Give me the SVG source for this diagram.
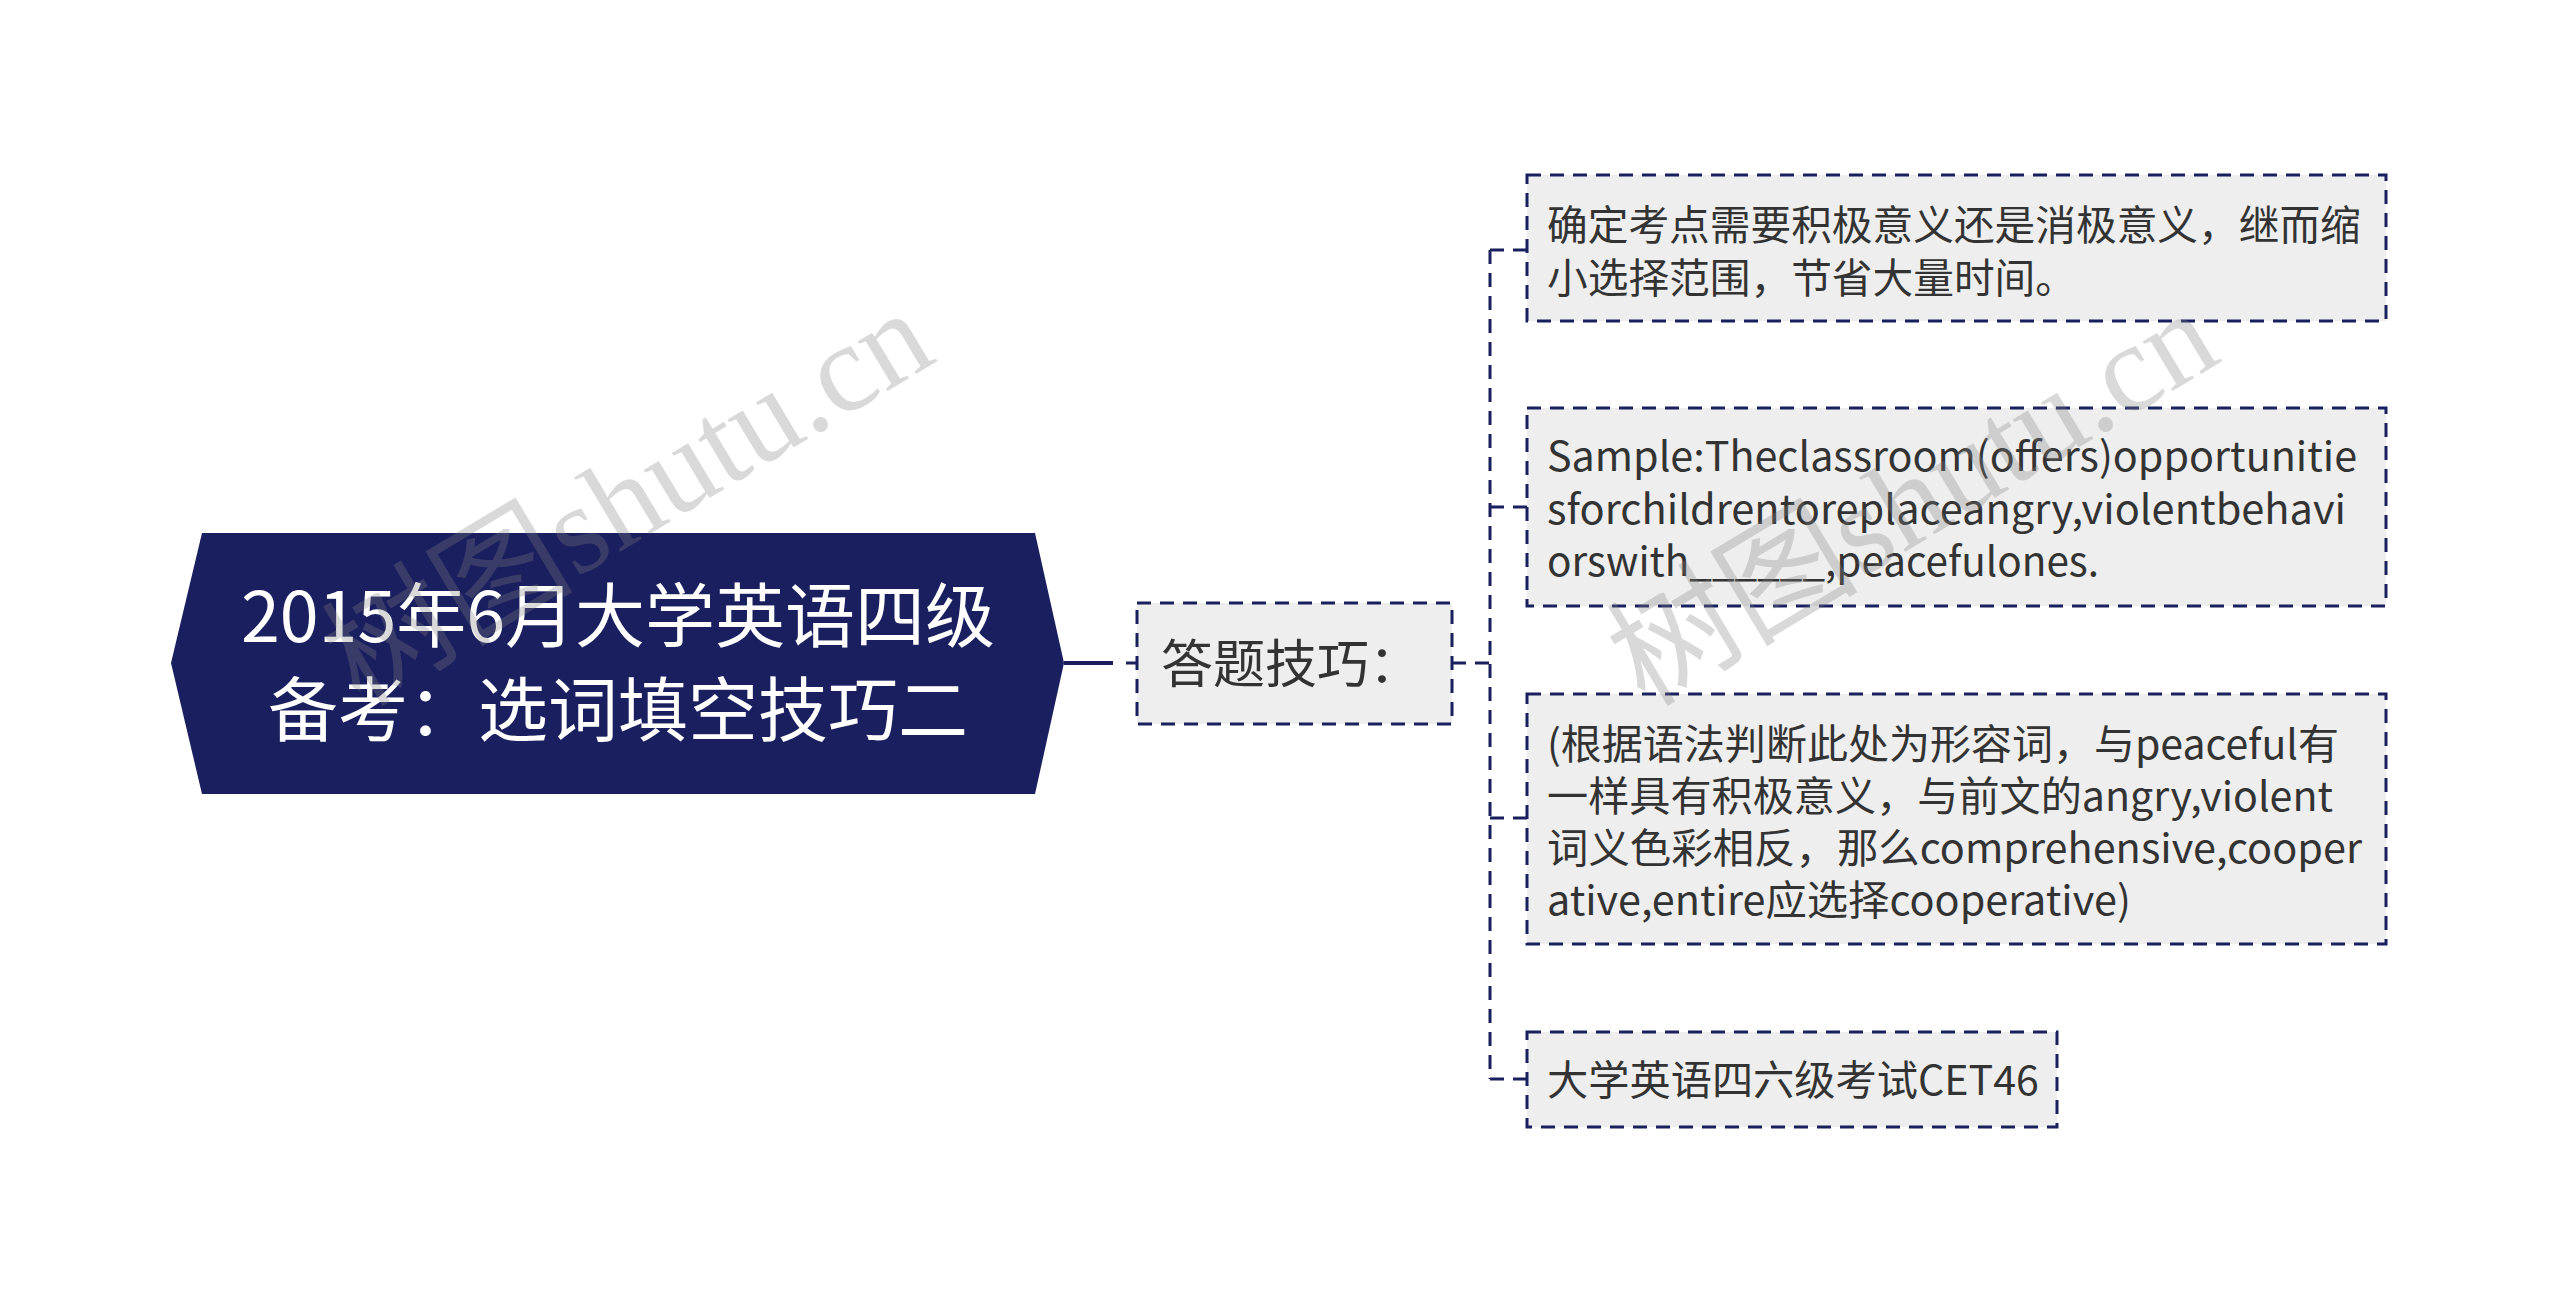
<svg xmlns="http://www.w3.org/2000/svg" width="2560" height="1301" viewBox="0 0 2560 1301">
<style>
.bg{fill:#ffffff}
.root{fill:#1a1f5f}
.roottxt{font-family:"Noto Sans CJK SC","Noto Sans",sans-serif;font-size:70px;fill:#ffffff;text-anchor:middle}
.box{fill:#eeeeee;stroke:#1a1f5f;stroke-width:3;stroke-dasharray:14 9}
.t{font-family:"Noto Sans CJK SC","Noto Sans",sans-serif;font-size:40.7px;fill:#333333}
.t2{font-family:"Noto Sans CJK SC","Noto Sans",sans-serif;font-size:52px;fill:#333333}
.solid{fill:none;stroke:#1a1f5f;stroke-width:4}
.dash{fill:none;stroke:#1a1f5f;stroke-width:3;stroke-dasharray:14 9}
.wm{font-family:"Liberation Serif","Noto Sans CJK SC",serif;font-size:126px;fill:#808080;fill-opacity:0.3}
</style>
<rect class="bg" x="0" y="0" width="2560" height="1301"/>
<g id="connectors">
<path class="solid" d="M1064,663 H1113"/>
<path class="dash" d="M1126,663 H1137"/>
<path class="dash" d="M1452,663 H1490"/>
<path class="dash" d="M1490,250 V1079"/>
<path class="dash" d="M1490,250 H1527"/>
<path class="dash" d="M1490,507 H1527"/>
<path class="dash" d="M1490,818 H1527"/>
<path class="dash" d="M1490,1079 H1527"/>
</g>
<g id="root">
<polygon class="root" points="171,663 202,533 1035,533 1064,663 1035,794 202,794"/>
<text class="roottxt" x="618" y="642">2015年6月大学英语四级</text>
<text class="roottxt" x="618" y="736">备考：选词填空技巧二</text>
</g>
<g id="n-tips">
<rect class="box" x="1137" y="603" width="315" height="121"/>
<text class="t2" x="1161" y="683">答题技巧：</text>
</g>
<g id="n-c1">
<rect class="box" x="1527" y="175" width="859" height="146"/>
<text class="t" x="1547" y="240">确定考点需要积极意义还是消极意义，继而缩</text>
<text class="t" x="1547" y="293">小选择范围，节省大量时间。</text>
</g>
<g id="n-c2">
<rect class="box" x="1527" y="408" width="859" height="198"/>
<text class="t" x="1547" y="471" textLength="810" lengthAdjust="spacingAndGlyphs">Sample:Theclassroom(offers)opportunitie</text>
<text class="t" x="1547" y="523.5" textLength="799" lengthAdjust="spacingAndGlyphs">sforchildrentoreplaceangry,violentbehavi</text>
<text class="t" x="1547" y="576" textLength="552" lengthAdjust="spacingAndGlyphs">orswith______,peacefulones.</text>
</g>
<g id="n-c3">
<rect class="box" x="1527" y="694" width="859" height="250"/>
<text class="t" x="1547" y="758.5" textLength="792" lengthAdjust="spacingAndGlyphs">(根据语法判断此处为形容词，与peaceful有</text>
<text class="t" x="1547" y="810.5" textLength="786" lengthAdjust="spacingAndGlyphs">一样具有积极意义，与前文的angry,violent</text>
<text class="t" x="1547" y="862.5" textLength="815" lengthAdjust="spacingAndGlyphs">词义色彩相反，那么comprehensive,cooper</text>
<text class="t" x="1547" y="915" textLength="584" lengthAdjust="spacingAndGlyphs">ative,entire应选择cooperative)</text>
</g>
<g id="n-c4">
<rect class="box" x="1527" y="1032" width="530" height="95"/>
<text class="t" x="1547" y="1095" textLength="492" lengthAdjust="spacingAndGlyphs">大学英语四六级考试CET46</text>
</g>
<g id="watermark">
<text class="wm" transform="translate(360,708) rotate(-31)">树图shutu.cn</text>
<text class="wm" transform="translate(1645,708) rotate(-31)">树图shutu.cn</text>
</g>
</svg>
